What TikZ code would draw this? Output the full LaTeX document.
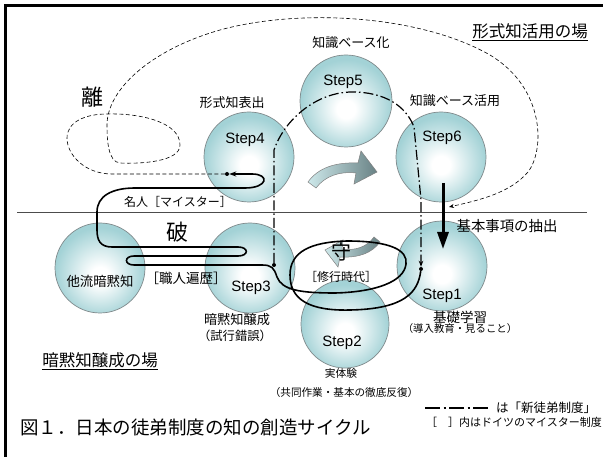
\documentclass[tikz,border=0pt]{standalone}
\usepackage{fontspec}
\newfontfamily\jp{Noto Sans CJK JP}
\newfontfamily\lat{Liberation Sans}
\usetikzlibrary{arrows.meta,calc}
\definecolor{ballc}{RGB}{163,210,214}
\definecolor{ballline}{RGB}{128,138,140}
\definecolor{garL}{RGB}{205,232,234}
\definecolor{garR}{RGB}{105,130,133}
\pgfdeclareradialshading{ballsh}{\pgfpoint{0bp}{-5bp}}{color(0bp)=(white); color(5bp)=(white); color(16bp)=(ballc!55); color(25bp)=(ballc); color(50bp)=(ballc)}
\tikzset{
  jf/.style={font=\jp\fontsize{#1}{#1}\selectfont, inner sep=0pt},
  sl/.style={font=\lat\fontsize{15}{15}\selectfont, inner sep=0pt},
  ball/.style={circle, draw=ballline, line width=0.7pt, shading=ballsh, minimum size=90pt, inner sep=0pt},
  dotn/.style={circle, fill=black, inner sep=0pt, minimum size=4pt},
  ddash/.style={line width=1.2pt, dash pattern=on 10pt off 3pt on 1.5pt off 3pt},
  thindash/.style={line width=0.6pt, dash pattern=on 4pt off 2.5pt},
  solidln/.style={line width=1.6pt},
  garrow/.style={draw=gray, line width=0.5pt, left color=garL, right color=garR}
}
\begin{document}
\begin{tikzpicture}[x=1pt,y=-1pt]
\useasboundingbox (0,0) rectangle (603,457);
\fill[white] (0,0) rectangle (603,457);
% frame
\draw[line width=3pt] (5.5,457) -- (5.5,5.5) -- (603,5.5);
% separator
\draw[gray!60!black, line width=0.9pt] (17,212) -- (587,212);
% gray curved arrows
\path[garrow] (308,182) .. controls (318,168) and (335,162) .. (358,163) -- (361,151) -- (377,172) -- (354,184) -- (356,173) .. controls (340,171) and (325,176) .. (316,188) -- cycle;
\path[garrow] (380,242) .. controls (372,253) and (359,258) .. (340,257) -- (338,267) -- (325,250) -- (343,240) -- (342,249) .. controls (355,251) and (367,247) .. (374,237) -- cycle;
% circles
\node[ball] (s4) at (249,157) {};
\node[ball, minimum size=92pt] (s5) at (346,101) {};
\node[ball] (s6) at (441,157) {};
\node[ball] (tr) at (100,268) {};
\node[ball] (s3) at (250,268) {};
\node[ball] (s1) at (442,266) {};
\node[ball, minimum size=88pt] (s2) at (345,324) {};
% step labels
\node[sl] (t4) at (245,140) {Step4};
\node[sl] (t5) at (343,82) {Step5};
\node[sl] (t6) at (442,138) {Step6};
\node[sl] (t3) at (251,288) {Step3};
\node[sl] (t1) at (442,296) {Step1};
\node[sl] (t2) at (342,343) {Step2};
% dots
\node[dotn] (d4) at (227,174) {};
\node[dotn] (d3) at (274,265) {};
\node[dotn] (d1) at (421,269) {};
% dashed loop (離)
\draw[thindash, -{Stealth[length=5pt,width=4pt]}] (d4) -- (112,174) .. controls (85,174) and (67,155) .. (67,138) .. controls (67,122) and (85,114) .. (107,114) .. controls (140,113) and (180,122) .. (180,145) .. controls (180,162) and (140,164) .. (120,163) .. controls (108,162) and (107,140) .. (107,125) .. controls (107,90) and (150,50) .. (220,30) .. controls (300,8) and (420,15) .. (490,55) .. controls (545,88) and (545,150) .. (528,172) .. controls (510,193) and (480,200) .. (449,207);
% dash-dot (新徒弟制度)
\draw[ddash, -{Stealth[length=6pt,width=4.5pt]}] (d3) -- (274,150) .. controls (285,118) and (318,92) .. (352,92) .. controls (385,92) and (406,106) .. (414,127) -- (421,200) -- (d1);
% solid path (守 破)
\draw[solidln, -{Stealth[length=7pt,width=5pt]}] (d1) .. controls (418,292) and (405,309) .. (350,310) .. controls (310,311) and (290,300) .. (290,275) .. controls (290,252) and (310,242) .. (347,241) .. controls (390,241) and (408,250) .. (406,264) .. controls (404,282) and (375,292) .. (335,293) .. controls (300,293) and (282,290) .. (277,277) .. controls (274,268) and (272,265) .. (262,265) -- (134,265) .. controls (124,265) and (124,256) .. (134,256) -- (238,256) .. controls (249,256) and (249,247) .. (238,247) -- (112,247) .. controls (100,247) and (97,240) .. (97,230) -- (97,212) .. controls (97,196) and (112,188) .. (135,188) -- (245,188) .. controls (268,188) and (270,174) .. (252,174) -- (d4);
% thick arrow
\coordinate (ta) at (443,183);
\coordinate (tb) at (443,249);
\draw[line width=3pt, -{Triangle[length=17pt,width=11pt]}] (ta) -- (tb);
% labels
\node[jf=13] (l4) at (232,103) {形式知表出};
\node[jf=13] (l5) at (351,43) {知識ベース化};
\node[jf=13] (l6) at (455,101) {知識ベース活用};
\node[jf=16.5] (lf) at (530,31) {形式知活用の場};
\draw[line width=0.8pt] ([yshift=-1.5pt]lf.south west) -- ([yshift=-1.5pt]lf.south east);
\node[jf=22] (ri) at (92,97) {離};
\node[jf=12] (mm) at (178,202) {名人［マイスター］};
\node[jf=22] (ha) at (177,232) {破};
\node[jf=13.4] (tl) at (100,281) {他流暗黙知};
\node[jf=13.5] (sj) at (186,278) {［職人遍歴］};
\node[jf=13.2] (an) at (237,320) {暗黙知醸成};
\node[jf=12.3] (sk) at (235,336) {（試行錯誤）};
\node[jf=16.5] (ab) at (100,360) {暗黙知醸成の場};
\draw[line width=0.8pt] ([yshift=-1.5pt]ab.south west) -- ([yshift=-1.5pt]ab.south east);
\node[jf=20] (mo) at (341,252) {守};
\node[jf=12] (sg) at (341,277) {［修行時代］};
\node[jf=14.4] (kh) at (507,226) {基本事項の抽出};
\node[jf=13.5] (kg) at (460,317) {基礎学習};
\node[jf=10.4] (dk) at (460,329) {（導入教育・見ること）};
\node[jf=10.7] (jt) at (341,373) {実体験};
\node[jf=10.6] (kd) at (344,392) {（共同作業・基本の徹底反復）};
% legend
\coordinate (lgA) at (425,408);
\coordinate (lgB) at (488,408);
\draw[line width=1.5pt, dash pattern=on 15pt off 3.5pt on 2pt off 3.5pt] (lgA) -- (lgB);
\node[jf=12.5, anchor=west] (lg1) at (496,408) {は「新徒弟制度」};
\node[jf=11, anchor=east] (lg2) at (602,422) {［　］内はドイツのマイスター制度};
% caption
\node[jf=18.5, anchor=west] (cap) at (20,427) {図１．日本の徒弟制度の知の創造サイクル};
\end{tikzpicture}
\end{document}
